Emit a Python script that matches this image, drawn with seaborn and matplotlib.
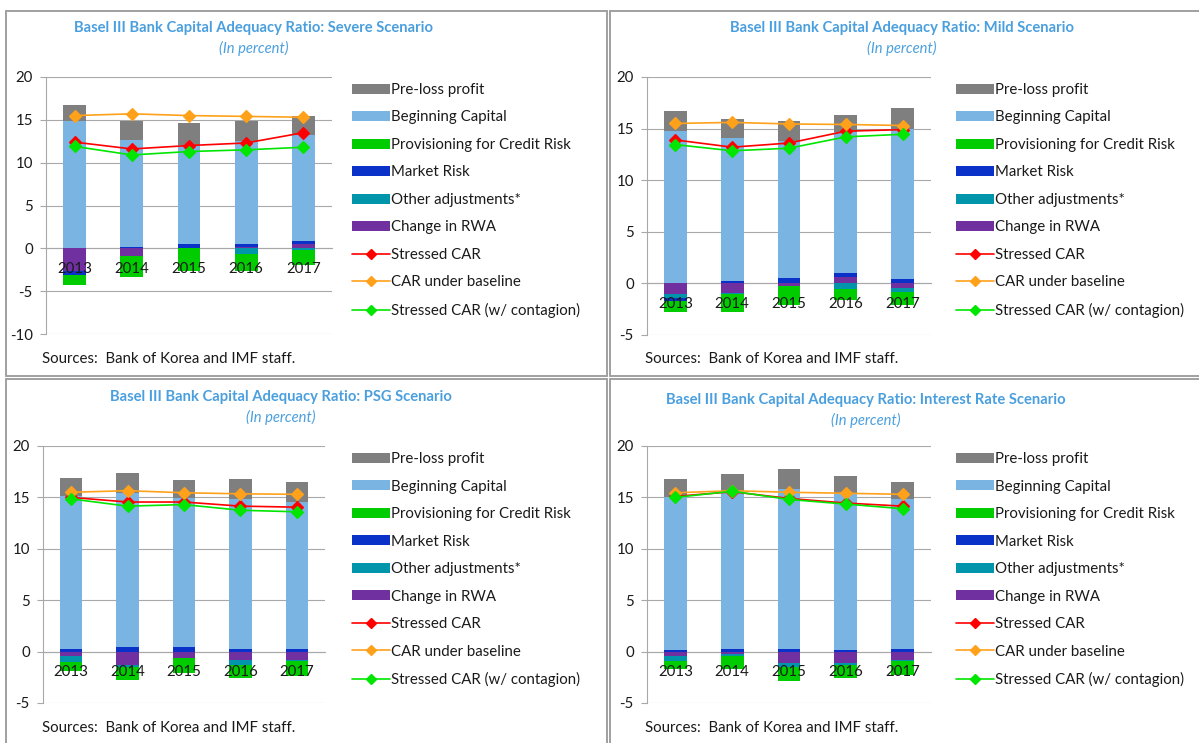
import numpy as np
import matplotlib
matplotlib.use("Agg")
import matplotlib.pyplot as plt
from matplotlib.patches import Patch
from matplotlib.lines import Line2D
import seaborn as sns

years = ["2013", "2014", "2015", "2016", "2017"]

# ---- Severe scenario ----
severe_preloss = [1.8, 2.3, 2.5, 2.35, 2.25]
severe_beginning = [14.9, 12.4, 11.6, 12.1, 12.35]
severe_provisioning = [-1.2, -2.4, -2.6, -1.9, -1.8]
severe_market = [-0.5, 0.2, 0.5, 0.25, 0.45]
severe_other = [0.0, 0.0, 0.0, -0.7, -0.2]
severe_rwa = [-2.6, -0.9, 0.0, 0.2, 0.45]
severe_stressed = [12.4, 11.6, 12.0, 12.3, 13.5]
severe_baseline = [15.5, 15.7, 15.5, 15.4, 15.3]
severe_contagion = [11.9, 10.9, 11.3, 11.5, 11.8]

# ---- Mild scenario ----
mild_preloss = [1.9, 1.85, 1.9, 1.65, 2.0]
mild_beginning = [14.8, 13.85, 13.25, 13.65, 14.6]
mild_provisioning = [-1.0, -1.7, -1.8, -1.1, -1.25]
mild_market = [-0.3, 0.25, 0.55, 0.45, 0.4]
mild_other = [-0.4, -0.15, 0.0, -0.5, -0.4]
mild_rwa = [-1.05, -0.9, -0.3, 0.58, -0.45]
mild_stressed = [13.9, 13.2, 13.6, 14.75, 14.9]
mild_baseline = [15.5, 15.6, 15.45, 15.4, 15.3]
mild_contagion = [13.45, 12.85, 13.1, 14.2, 14.45]

# ---- PSG scenario ----
psg_preloss = [1.75, 2.0, 1.7, 1.9, 1.9]
psg_beginning = [14.9, 15.0, 14.55, 14.6, 14.3]
psg_provisioning = [-0.9, -1.3, -1.5, -1.3, -1.5]
psg_market = [0.25, 0.4, 0.4, 0.25, 0.25]
psg_other = [-0.6, -0.2, 0.0, -0.5, -0.1]
psg_rwa = [-0.4, -1.3, -0.6, -0.8, -0.8]
psg_stressed = [15.0, 14.55, 14.55, 14.15, 14.05]
psg_baseline = [15.5, 15.65, 15.45, 15.35, 15.3]
psg_contagion = [14.85, 14.15, 14.3, 13.75, 13.6]

# ---- Interest rate scenario ----
ir_preloss = [1.7, 1.65, 1.95, 1.7, 1.7]
ir_beginning = [14.9, 15.35, 15.6, 15.2, 14.55]
ir_provisioning = [-0.75, -1.2, -1.35, -1.3, -1.4]
ir_market = [0.16, 0.25, 0.25, 0.16, 0.25]
ir_other = [-0.5, -0.25, -0.4, -0.16, -0.1]
ir_rwa = [-0.4, -0.2, -1.13, -1.13, -0.8]
ir_stressed = [15.1, 15.55, 14.9, 14.45, 14.15]
ir_baseline = [15.45, 15.65, 15.5, 15.4, 15.3]
ir_contagion = [15.0, 15.6, 14.8, 14.35, 13.9]

bar_labels = ["Pre-loss profit", "Beginning Capital", "Provisioning for Credit Risk",
              "Market Risk", "Other adjustments*", "Change in RWA"]
line_labels = ["Stressed CAR", "CAR under baseline", "Stressed CAR (w/ contagion)"]

bar_colors = ["#7f7f7f", "#7ab4e3", "#00cc00", "#0a32c8", "#0095aa", "#7030a0"]
line_colors = ["#ff0000", "#ffa11a", "#00e600"]
grid_color = "#a8a8a8"
title_color = "#4a9fde"
text_color = "#1a1a1a"

sns.set_theme(style="white")
plt.rcParams["font.family"] = ["Lato", "DejaVu Sans"]
plt.rcParams["axes.unicode_minus"] = False

W, H = 1199, 743
fig = plt.figure(figsize=(W / 100, H / 100), dpi=100)
fig.patch.set_facecolor("white")


def px_axes(x0, y_top, x1, y_bot):
    return fig.add_axes([x0 / W, 1 - y_bot / H, (x1 - x0) / W, (y_bot - y_top) / H])


def draw_panel(ax, bars, lines, ymin):
    # bars: same order as bar_labels; stacked from the zero line in reverse legend order
    pos = np.zeros(len(years))
    neg = np.zeros(len(years))
    for vals, color in reversed(list(zip(bars, bar_colors))):
        vals = np.asarray(vals, dtype=float)
        bottom = np.where(vals >= 0, pos, neg)
        sns.barplot(x=years, y=vals, order=years, bottom=bottom, color=color,
                    width=0.4, saturation=1, edgecolor="none", linewidth=0,
                    errorbar=None, ax=ax, zorder=1)
        pos += np.clip(vals, 0, None)
        neg += np.clip(vals, None, 0)
    for vals, color in zip(lines, line_colors):
        sns.pointplot(x=years, y=vals, order=years, color=color, markers="D",
                      markersize=6, linewidth=1.2, errorbar=None, ax=ax)

    ax.set_xlabel("")
    ax.set_ylabel("")
    ax.set_xlim(-0.5, len(years) - 0.5)
    ax.set_ylim(ymin, 20)
    yt = np.arange(ymin, 21, 5)
    ax.set_yticks(yt)
    ax.grid(False)
    for v in yt:
        ax.axhline(v, color=grid_color, lw=0.8, zorder=0)
    for s in ["top", "right"]:
        ax.spines[s].set_visible(False)
    ax.spines["left"].set_color(grid_color)
    ax.spines["left"].set_linewidth(0.8)
    ax.spines["bottom"].set_position(("data", 0))
    ax.spines["bottom"].set_color(grid_color)
    ax.spines["bottom"].set_linewidth(0.8)
    ax.spines["bottom"].set_zorder(0.5)
    ax.set_xticks(range(len(years)))
    ax.set_xticklabels(years)
    ax.set_xticks(np.arange(-0.5, len(years), 1), minor=True)
    ax.tick_params(axis="x", which="major", length=0, pad=10, labelsize=10.8,
                   labelcolor=text_color)
    ax.tick_params(axis="x", which="minor", length=4, width=0.8, color=grid_color,
                   direction="out")
    ax.tick_params(axis="y", length=4.5, width=0.8, color=grid_color, pad=5,
                   labelsize=10.8, labelcolor=text_color, left=True)
    ax.xaxis.set_zorder(5)
    ax.set_facecolor("none")


def add_legend(ax, x_left, y_top):
    handles = [Patch(facecolor=c, edgecolor="none") for c in bar_colors]
    handles += [Line2D([0], [0], color=c, lw=1.2, marker="D", markersize=5)
                for c in line_colors]
    ax.legend(handles, bar_labels + line_labels, loc="upper left",
              bbox_to_anchor=(x_left / W, 1 - y_top / H), bbox_transform=fig.transFigure,
              frameon=False, fontsize=10.8, handlelength=2.5, handleheight=0.62,
              handletextpad=0.12, labelspacing=0.9, borderpad=0, borderaxespad=0,
              labelcolor=text_color)


panels = [
    dict(title="Basel III Bank Capital Adequacy Ratio: Severe Scenario",
         bars=[severe_preloss, severe_beginning, severe_provisioning, severe_market,
               severe_other, severe_rwa],
         lines=[severe_stressed, severe_baseline, severe_contagion],
         rect=(46, 77, 332, 334), ymin=-10, legend=(352, 83), tx=254, ty=28,
         src=(42, 359)),
    dict(title="Basel III Bank Capital Adequacy Ratio: Mild Scenario",
         bars=[mild_preloss, mild_beginning, mild_provisioning, mild_market,
               mild_other, mild_rwa],
         lines=[mild_stressed, mild_baseline, mild_contagion],
         rect=(647, 77, 931, 335), ymin=-5, legend=(956, 83), tx=902, ty=28,
         src=(645, 359)),
    dict(title="Basel III Bank Capital Adequacy Ratio: PSG Scenario",
         bars=[psg_preloss, psg_beginning, psg_provisioning, psg_market,
               psg_other, psg_rwa],
         lines=[psg_stressed, psg_baseline, psg_contagion],
         rect=(43, 446, 325, 703), ymin=-5, legend=(352, 452), tx=281, ty=397,
         src=(42, 728)),
    dict(title="Basel III Bank Capital Adequacy Ratio: Interest Rate Scenario",
         bars=[ir_preloss, ir_beginning, ir_provisioning, ir_market,
               ir_other, ir_rwa],
         lines=[ir_stressed, ir_baseline, ir_contagion],
         rect=(647, 446, 931, 703), ymin=-5, legend=(956, 452), tx=866, ty=400,
         src=(645, 728)),
]

for p in panels:
    ax = px_axes(*p["rect"])
    draw_panel(ax, p["bars"], p["lines"], p["ymin"])
    add_legend(ax, *p["legend"])
    fig.text(p["tx"] / W, 1 - p["ty"] / H, p["title"], ha="center", va="center",
             fontsize=10.6, fontweight="bold", color=title_color)
    fig.text(p["tx"] / W, 1 - (p["ty"] + 20) / H, "(In percent)", ha="center",
             va="center", fontsize=10.6, fontstyle="italic", color=title_color)
    fig.text(p["src"][0] / W, 1 - p["src"][1] / H, "Sources:  Bank of Korea and IMF staff.",
             ha="left", va="center", fontsize=10.8, color=text_color)

# Panel frames
frame_segments = [
    ((6, 11), (607, 11)), ((6, 11), (6, 376)), ((607, 11), (607, 376)), ((6, 376), (607, 376)),
    ((610, 11), (1199, 11)), ((610, 11), (610, 376)), ((610, 376), (1199, 376)),
    ((6, 379), (607, 379)), ((6, 379), (6, 743)), ((607, 379), (607, 743)),
    ((610, 379), (1199, 379)), ((610, 379), (610, 743)),
]
for (x0, y0), (x1, y1) in frame_segments:
    fig.add_artist(Line2D([x0 / W, x1 / W], [1 - y0 / H, 1 - y1 / H],
                          transform=fig.transFigure, color="#a0a0a0", lw=1.4))

fig.savefig("out.png", dpi=100, facecolor="white")
